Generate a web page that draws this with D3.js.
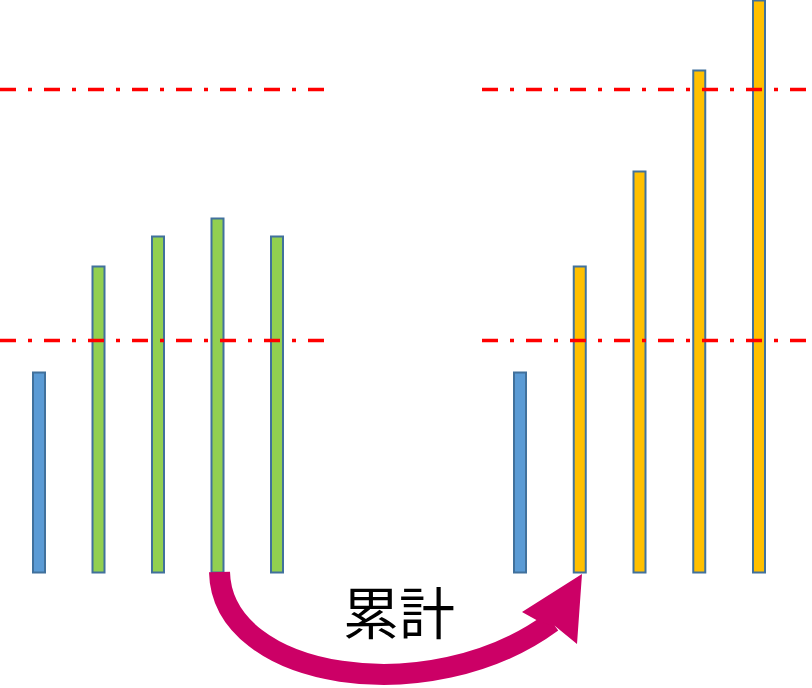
<!DOCTYPE html>
<html>
<head>
<meta charset="utf-8">
<script src="https://cdn.jsdelivr.net/npm/d3@7"></script>
<style>
html,body{margin:0;padding:0;background:#fff;}
svg{display:block;}
</style>
</head>
<body>
<svg id="chart" width="812" height="688"></svg>
<script>
// ---- data ----
const leftCategories = ["L0", "L1", "L2", "L3", "L4"];
const leftValues = [20.0, 30.6, 33.6, 35.4, 33.6];
const leftKinds = ["base", "period", "period", "period", "period"];
const rightCategories = ["R0", "R1", "R2", "R3", "R4"];
const rightValues = [20.0, 30.6, 40.1, 50.2, 57.2];
const rightKinds = ["base", "cum", "cum", "cum", "cum"];
const refLines = [23.2, 48.3];
const arrowLabel = "累計";

// ---- layout ----
const svg = d3.select("#chart");
const baseY = 572.5;
const y = d3.scaleLinear().domain([0, 57.25]).range([baseY, 0]);
const xLeft = d3.scalePoint().domain(leftCategories).range([39, 277]);
const xRight = d3.scalePoint().domain(rightCategories).range([520, 759]);
const color = d3.scaleOrdinal().domain(["base", "period", "cum"]).range(["#5B9BD5", "#92D050", "#FFC000"]);
const barW = 12;

function drawGroup(cats, vals, kinds, xs) {
  const data = cats.map((c, i) => ({c, v: vals[i], k: kinds[i]}));
  svg.append("g").selectAll("rect").data(data).join("rect")
    .attr("x", d => xs(d.c) - barW / 2)
    .attr("y", d => y(d.v))
    .attr("width", barW)
    .attr("height", d => y(0) - y(d.v))
    .attr("fill", d => color(d.k))
    .attr("stroke", "#41719C")
    .attr("stroke-width", 2);
}
drawGroup(leftCategories, leftValues, leftKinds, xLeft);
drawGroup(rightCategories, rightValues, rightKinds, xRight);

// reference lines (dash-dot)
const segs = [[0, 325], [482, 808]];
const lg = svg.append("g");
refLines.forEach(v => {
  segs.forEach(s => {
    lg.append("line")
      .attr("x1", s[0]).attr("x2", s[1])
      .attr("y1", y(v)).attr("y2", y(v))
      .attr("stroke", "#FF0000")
      .attr("stroke-width", 3.6)
      .attr("stroke-dasharray", "16 12 4 12");
  });
});

// curved arrow
const ag = svg.append("g");
ag.append("path")
  .attr("d", "M219.5,572 C222,680 430,712 552,622")
  .attr("fill", "none")
  .attr("stroke", "#CC0066")
  .attr("stroke-width", 21);
ag.append("path")
  .attr("d", "M582,574 L577,644 L555,626 L540,622 L522,612 Z")
  .attr("fill", "#CC0066");

svg.append("text")
  .attr("x", 399).attr("y", 609)
  .attr("text-anchor", "middle")
  .attr("dominant-baseline", "central")
  .attr("font-family", "'Noto Sans CJK JP', 'Noto Sans CJK SC', sans-serif")
  .attr("font-size", 56)
  .attr("fill", "#000")
  .text(arrowLabel);
</script>
</body>
</html>
